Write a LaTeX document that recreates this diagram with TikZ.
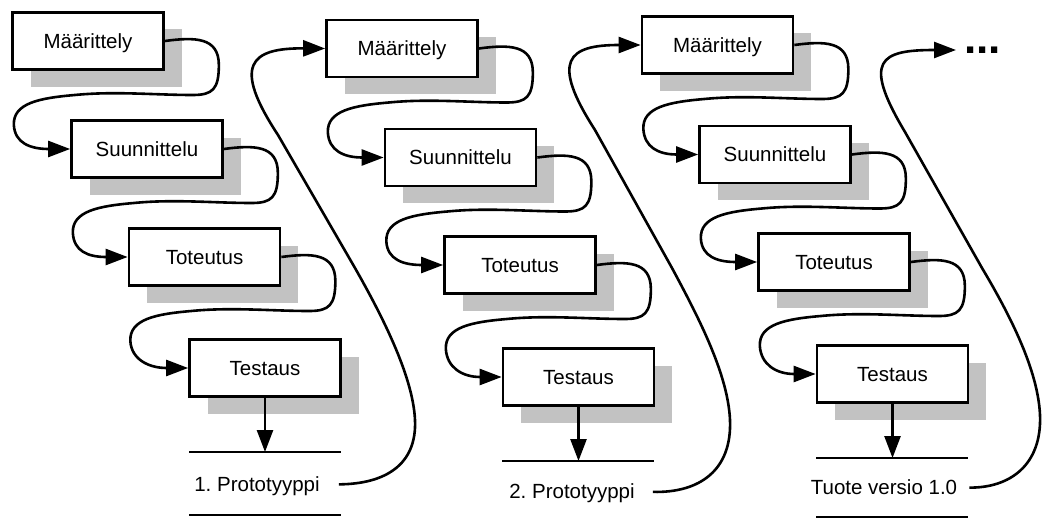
\documentclass[tikz,border=0pt]{standalone}
\usepackage{fontspec}
\setmainfont{Liberation Sans}
\usetikzlibrary{arrows.meta,calc,shadows}
\newcommand\linkbox[2]{%
  \draw[flow] (#1.east)
    .. controls ($(#1.east)+(30,-4)$) and ($(#1.east)+(54,-4)$) .. ($(#1.east)+(54,24)$)
    .. controls ($(#1.east)+(54,48)$) and ($(#1.east)+(48,54)$) .. ($(#1.east)+(28,54)$)
    .. controls ($(#1.east)+(-10,54)$) and ($(#1.east)+(-50,50)$) .. ($(#1.east)+(-90,54)$)
    .. controls ($(#1.east)+(-125,57)$) and ($(#1.east)+(-152,62)$) .. ($(#1.east)+(-151,84)$)
    .. controls ($(#1.east)+(-150,102)$) and ($(#2.west)+(-40,0)$) .. (#2.west);}
\begin{document}
\frenchspacing
\begin{tikzpicture}[x=1pt,y=-1pt,
  phase/.style={draw,line width=2.7pt,fill=white,minimum width=151pt,minimum height=57pt,
    inner sep=0pt,text height=14.7pt,text depth=0pt,font=\fontsize{20.5}{24}\selectfont,
    drop shadow={shadow xshift=18pt,shadow yshift=-17pt,fill=black!24,opacity=1}},
  lbl/.style={inner sep=0pt,text height=14.7pt,text depth=0pt,font=\fontsize{20.5}{24}\selectfont},
  flow/.style={line width=2.6pt,-{Triangle[length=22pt,width=16pt]}},
  rule/.style={line width=2.6pt}]
\useasboundingbox (0,0) rectangle (1043,519);
% column 1
\node[phase] (m1) at (88,41) {Määrittely};
\node[phase] (s1) at (147,149) {Suunnittelu};
\node[phase] (t1) at (204.5,257) {Toteutus};
\node[phase] (e1) at (265,368) {Testaus};
% column 2
\node[phase] (m2) at (402,48.5) {Määrittely};
\node[phase] (s2) at (460.5,157.5) {Suunnittelu};
\node[phase] (t2) at (520,265) {Toteutus};
\node[phase] (e2) at (578.5,377) {Testaus};
% column 3
\node[phase] (m3) at (717.5,45) {Määrittely};
\node[phase] (s3) at (775,154.5) {Suunnittelu};
\node[phase] (t3) at (834,262) {Toteutus};
\node[phase] (e3) at (892.5,374) {Testaus};
% phase connectors
\linkbox{m1}{s1}\linkbox{s1}{t1}\linkbox{t1}{e1}
\linkbox{m2}{s2}\linkbox{s2}{t2}\linkbox{t2}{e2}
\linkbox{m3}{s3}\linkbox{s3}{t3}\linkbox{t3}{e3}
% outputs
\coordinate (l1a) at (189,452); \coordinate (l1b) at (341,452);
\coordinate (l2a) at (502,461); \coordinate (l2b) at (654,461);
\coordinate (l3a) at (816,458); \coordinate (l3b) at (968,458);
\coordinate (b1a) at (189,515); \coordinate (b1b) at (341,515);
\coordinate (b3a) at (816,517); \coordinate (b3b) at (968,517);
\draw[rule] (l1a) -- (l1b);
\draw[rule] (l2a) -- (l2b);
\draw[rule] (l3a) -- (l3b);
\draw[rule] (b1a) -- (b1b);
\draw[rule] (b3a) -- (b3b);
\draw[flow] (e1.south) -- (e1.south |- l1a);
\draw[flow] (e2.south) -- (e2.south |- l2a);
\draw[flow] (e3.south) -- (e3.south |- l3a);
\node[lbl] (p1) at (257,484.5) {1. Prototyyppi};
\node[lbl] (p2) at (572,491.5) {2. Prototyyppi};
\node[lbl] (p3) at (884,487.5) {Tuote versio 1.0};
% iteration connectors
\draw[flow,shorten <=19pt] (p1.east) .. controls (385,484) and (417,465) .. (415,420)
  .. controls (413,375) and (380,312) .. (355,268) -- (278,135)
  .. controls (232,65) and (250,48) .. (m2.west);
\draw[flow,shorten <=18pt] (p2.east) .. controls (700,493) and (732,470) .. (730,420)
  .. controls (728,375) and (700,320) .. (672,268) -- (595,130)
  .. controls (550,60) and (568,45) .. (m3.west);
\coordinate (c4) at (956,50);
\draw[flow,shorten <=12pt] (p3.east) .. controls (1010,488) and (1042,465) .. (1040,415)
  .. controls (1038,370) and (1010,315) .. (982,268) -- (905,132)
  .. controls (862,60) and (880,50) .. (c4);
\node[anchor=base west,inner sep=0pt,font=\fontsize{44}{44}\selectfont\bfseries] (more) at (964,53.5) {...};
\end{tikzpicture}
\end{document}
